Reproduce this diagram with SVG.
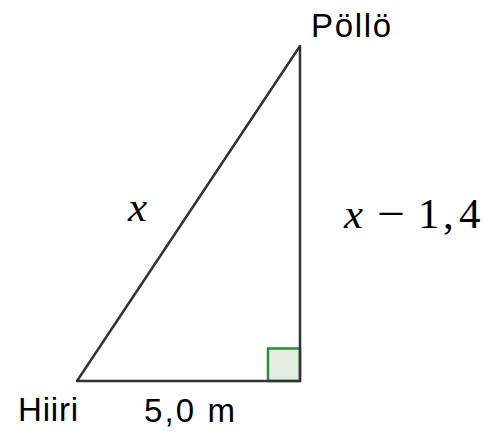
<svg xmlns="http://www.w3.org/2000/svg" width="490" height="434" viewBox="0 0 490 434">
<style>
.edge{fill:none;stroke:#333;stroke-width:2.5;stroke-linejoin:round}
.lbl{font-family:"Liberation Sans",Arial,sans-serif;font-size:33px;fill:#000}
.math{font-family:"Liberation Serif","DejaVu Serif",serif;font-size:43px;fill:#000}
</style>
<rect width="490" height="434" fill="#fff"/>
<g id="rightangle"><rect x="268" y="348.5" width="32" height="32.5" fill="#e3eee3" stroke="#2e8b3a" stroke-width="2.5"/></g>
<g id="connectors">
<path class="edge" d="M77 381 L300 46 L300 381 Z"/>
</g>
<g id="owl"><text class="lbl" x="311" y="37" textLength="80" lengthAdjust="spacing">Pöllö</text></g>
<g id="mouse"><text class="lbl" x="18" y="421" textLength="60" lengthAdjust="spacing">Hiiri</text></g>
<g id="base"><text class="lbl" x="144" y="422" textLength="91" lengthAdjust="spacing">5,0 m</text></g>
<g id="hyp"><text class="math" x="128" y="221" font-style="italic">x</text></g>
<g id="vert">
<text class="math" x="344" y="228" font-style="italic">x</text>
<text class="math" x="377" y="228" textLength="28" lengthAdjust="spacingAndGlyphs">−</text>
<text class="math" y="228" font-size="45"><tspan x="418">1</tspan><tspan x="443">,</tspan><tspan x="459">4</tspan></text>
</g>
</svg>
